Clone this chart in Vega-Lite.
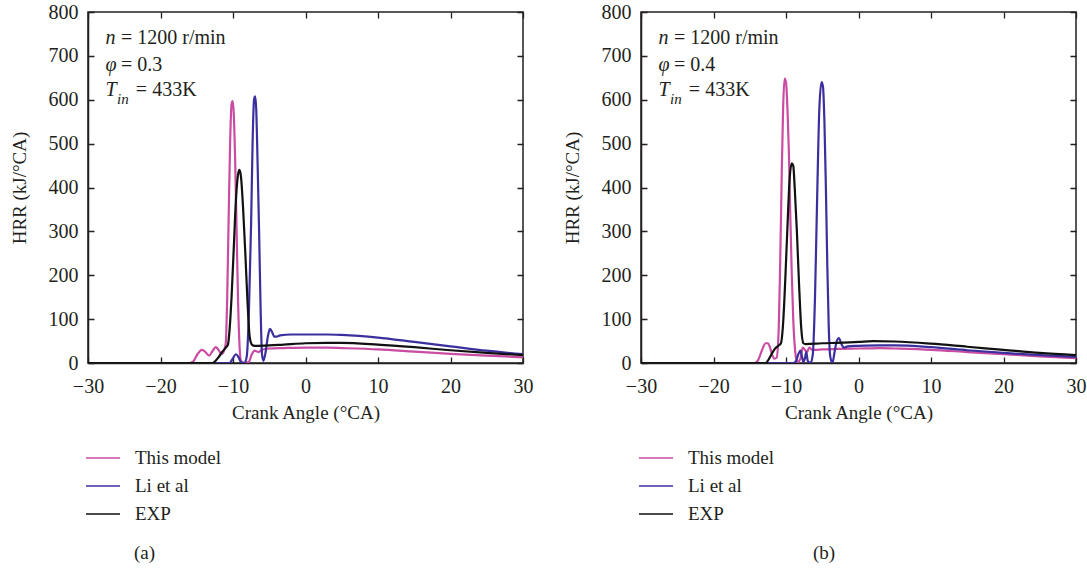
{
  "$schema": "https://vega.github.io/schema/vega-lite/v6.json",
  "background": "white",
  "padding": {"left": 9, "top": 1, "right": 10, "bottom": 5},
  "spacing": 28,
  "config": {
    "font": "Liberation Serif",
    "view": {"stroke": "#231f20", "strokeWidth": 1.5},
    "axis": {"domainColor": "#231f20", "domainWidth": 1.5, "labelFont": "Liberation Serif", "labelFontSize": 20, "labelColor": "#231f20", "titleFont": "Liberation Serif", "titleFontSize": 19, "titleFontWeight": "normal", "titleColor": "#231f20", "labelOverlap": false, "labelFlush": false},
    "legend": {"orient": "none", "legendX": -3, "legendY": 428, "symbolType": "stroke", "symbolSize": 1156, "symbolStrokeWidth": 1.5, "labelFont": "Liberation Serif", "labelFontSize": 19, "labelColor": "#231f20", "labelOffset": 14, "rowPadding": -4, "title": null},
    "title": {"font": "Liberation Serif", "fontSize": 19, "fontWeight": "normal", "color": "#231f20"}
  },
  "resolve": {"legend": {"color": "independent"}},
  "datasets": {
    "curves": [
      {"p":"a","s":"This model","angle":-30,"hrr":0},{"p":"a","s":"This model","angle":-16,"hrr":0},{"p":"a","s":"This model","angle":-15.5,"hrr":3},{"p":"a","s":"This model","angle":-14.9,"hrr":20},{"p":"a","s":"This model","angle":-14.3,"hrr":30},{"p":"a","s":"This model","angle":-13.8,"hrr":25},{"p":"a","s":"This model","angle":-13.3,"hrr":17},{"p":"a","s":"This model","angle":-12.8,"hrr":28},{"p":"a","s":"This model","angle":-12.4,"hrr":36},{"p":"a","s":"This model","angle":-12.0,"hrr":30},{"p":"a","s":"This model","angle":-11.6,"hrr":20},{"p":"a","s":"This model","angle":-11.2,"hrr":30},{"p":"a","s":"This model","angle":-11.0,"hrr":45},{"p":"a","s":"This model","angle":-10.8,"hrr":150},{"p":"a","s":"This model","angle":-10.6,"hrr":330},{"p":"a","s":"This model","angle":-10.4,"hrr":500},{"p":"a","s":"This model","angle":-10.2,"hrr":590},{"p":"a","s":"This model","angle":-10.05,"hrr":597},{"p":"a","s":"This model","angle":-9.9,"hrr":570},{"p":"a","s":"This model","angle":-9.7,"hrr":460},{"p":"a","s":"This model","angle":-9.5,"hrr":300},{"p":"a","s":"This model","angle":-9.3,"hrr":140},{"p":"a","s":"This model","angle":-9.1,"hrr":40},{"p":"a","s":"This model","angle":-8.9,"hrr":5},{"p":"a","s":"This model","angle":-8.5,"hrr":0},{"p":"a","s":"This model","angle":-7.8,"hrr":3},{"p":"a","s":"This model","angle":-7.4,"hrr":20},{"p":"a","s":"This model","angle":-7.0,"hrr":28},{"p":"a","s":"This model","angle":-6.5,"hrr":25},{"p":"a","s":"This model","angle":-6.0,"hrr":30},{"p":"a","s":"This model","angle":-5,"hrr":33},{"p":"a","s":"This model","angle":-3,"hrr":34},{"p":"a","s":"This model","angle":0,"hrr":35},{"p":"a","s":"This model","angle":3,"hrr":35},{"p":"a","s":"This model","angle":5,"hrr":34},{"p":"a","s":"This model","angle":10,"hrr":31},{"p":"a","s":"This model","angle":15,"hrr":26},{"p":"a","s":"This model","angle":20,"hrr":21},{"p":"a","s":"This model","angle":25,"hrr":17},{"p":"a","s":"This model","angle":30,"hrr":13},
      {"p":"a","s":"Li et al","angle":-30,"hrr":0},{"p":"a","s":"Li et al","angle":-10.5,"hrr":0},{"p":"a","s":"Li et al","angle":-10.1,"hrr":8},{"p":"a","s":"Li et al","angle":-9.6,"hrr":20},{"p":"a","s":"Li et al","angle":-9.2,"hrr":12},{"p":"a","s":"Li et al","angle":-8.9,"hrr":2},{"p":"a","s":"Li et al","angle":-8.4,"hrr":0},{"p":"a","s":"Li et al","angle":-8.1,"hrr":15},{"p":"a","s":"Li et al","angle":-7.8,"hrr":120},{"p":"a","s":"Li et al","angle":-7.5,"hrr":320},{"p":"a","s":"Li et al","angle":-7.3,"hrr":500},{"p":"a","s":"Li et al","angle":-7.1,"hrr":600},{"p":"a","s":"Li et al","angle":-6.95,"hrr":608},{"p":"a","s":"Li et al","angle":-6.8,"hrr":580},{"p":"a","s":"Li et al","angle":-6.6,"hrr":450},{"p":"a","s":"Li et al","angle":-6.4,"hrr":300},{"p":"a","s":"Li et al","angle":-6.2,"hrr":130},{"p":"a","s":"Li et al","angle":-6.0,"hrr":20},{"p":"a","s":"Li et al","angle":-5.8,"hrr":5},{"p":"a","s":"Li et al","angle":-5.5,"hrr":25},{"p":"a","s":"Li et al","angle":-5.2,"hrr":60},{"p":"a","s":"Li et al","angle":-4.9,"hrr":78},{"p":"a","s":"Li et al","angle":-4.6,"hrr":70},{"p":"a","s":"Li et al","angle":-4.3,"hrr":60},{"p":"a","s":"Li et al","angle":-4.0,"hrr":60},{"p":"a","s":"Li et al","angle":-3.5,"hrr":63},{"p":"a","s":"Li et al","angle":-2,"hrr":65},{"p":"a","s":"Li et al","angle":0,"hrr":65},{"p":"a","s":"Li et al","angle":3,"hrr":65},{"p":"a","s":"Li et al","angle":5,"hrr":64},{"p":"a","s":"Li et al","angle":10,"hrr":58},{"p":"a","s":"Li et al","angle":15,"hrr":48},{"p":"a","s":"Li et al","angle":20,"hrr":38},{"p":"a","s":"Li et al","angle":25,"hrr":28},{"p":"a","s":"Li et al","angle":30,"hrr":20},
      {"p":"a","s":"EXP","angle":-30,"hrr":0},{"p":"a","s":"EXP","angle":-12.8,"hrr":0},{"p":"a","s":"EXP","angle":-12.4,"hrr":5},{"p":"a","s":"EXP","angle":-12.0,"hrr":13},{"p":"a","s":"EXP","angle":-11.5,"hrr":25},{"p":"a","s":"EXP","angle":-11.0,"hrr":35},{"p":"a","s":"EXP","angle":-10.7,"hrr":42},{"p":"a","s":"EXP","angle":-10.5,"hrr":70},{"p":"a","s":"EXP","angle":-10.2,"hrr":150},{"p":"a","s":"EXP","angle":-9.9,"hrr":260},{"p":"a","s":"EXP","angle":-9.6,"hrr":370},{"p":"a","s":"EXP","angle":-9.3,"hrr":430},{"p":"a","s":"EXP","angle":-9.1,"hrr":440},{"p":"a","s":"EXP","angle":-8.9,"hrr":425},{"p":"a","s":"EXP","angle":-8.6,"hrr":350},{"p":"a","s":"EXP","angle":-8.3,"hrr":250},{"p":"a","s":"EXP","angle":-8.0,"hrr":140},{"p":"a","s":"EXP","angle":-7.7,"hrr":60},{"p":"a","s":"EXP","angle":-7.4,"hrr":42},{"p":"a","s":"EXP","angle":-7.0,"hrr":39},{"p":"a","s":"EXP","angle":-5,"hrr":40},{"p":"a","s":"EXP","angle":-3,"hrr":42},{"p":"a","s":"EXP","angle":0,"hrr":45},{"p":"a","s":"EXP","angle":3,"hrr":46},{"p":"a","s":"EXP","angle":5,"hrr":46},{"p":"a","s":"EXP","angle":10,"hrr":42},{"p":"a","s":"EXP","angle":15,"hrr":36},{"p":"a","s":"EXP","angle":20,"hrr":29},{"p":"a","s":"EXP","angle":25,"hrr":23},{"p":"a","s":"EXP","angle":30,"hrr":18},
      {"p":"b","s":"This model","angle":-30,"hrr":0},{"p":"b","s":"This model","angle":-14.3,"hrr":0},{"p":"b","s":"This model","angle":-13.8,"hrr":8},{"p":"b","s":"This model","angle":-13.3,"hrr":30},{"p":"b","s":"This model","angle":-12.8,"hrr":45},{"p":"b","s":"This model","angle":-12.5,"hrr":45},{"p":"b","s":"This model","angle":-12.2,"hrr":35},{"p":"b","s":"This model","angle":-11.9,"hrr":18},{"p":"b","s":"This model","angle":-11.6,"hrr":10},{"p":"b","s":"This model","angle":-11.3,"hrr":12},{"p":"b","s":"This model","angle":-11.0,"hrr":80},{"p":"b","s":"This model","angle":-10.8,"hrr":230},{"p":"b","s":"This model","angle":-10.6,"hrr":420},{"p":"b","s":"This model","angle":-10.4,"hrr":580},{"p":"b","s":"This model","angle":-10.2,"hrr":648},{"p":"b","s":"This model","angle":-10.0,"hrr":640},{"p":"b","s":"This model","angle":-9.8,"hrr":580},{"p":"b","s":"This model","angle":-9.6,"hrr":480},{"p":"b","s":"This model","angle":-9.4,"hrr":330},{"p":"b","s":"This model","angle":-9.2,"hrr":200},{"p":"b","s":"This model","angle":-9.0,"hrr":100},{"p":"b","s":"This model","angle":-8.8,"hrr":40},{"p":"b","s":"This model","angle":-8.6,"hrr":10},{"p":"b","s":"This model","angle":-8.4,"hrr":2},{"p":"b","s":"This model","angle":-8.0,"hrr":10},{"p":"b","s":"This model","angle":-7.7,"hrr":35},{"p":"b","s":"This model","angle":-7.4,"hrr":30},{"p":"b","s":"This model","angle":-7.1,"hrr":25},{"p":"b","s":"This model","angle":-6.8,"hrr":35},{"p":"b","s":"This model","angle":-6.4,"hrr":30},{"p":"b","s":"This model","angle":-6,"hrr":30},{"p":"b","s":"This model","angle":-5,"hrr":31},{"p":"b","s":"This model","angle":-3,"hrr":32},{"p":"b","s":"This model","angle":0,"hrr":33},{"p":"b","s":"This model","angle":3,"hrr":34},{"p":"b","s":"This model","angle":5,"hrr":33},{"p":"b","s":"This model","angle":10,"hrr":30},{"p":"b","s":"This model","angle":15,"hrr":25},{"p":"b","s":"This model","angle":20,"hrr":20},{"p":"b","s":"This model","angle":25,"hrr":15},{"p":"b","s":"This model","angle":30,"hrr":11},
      {"p":"b","s":"Li et al","angle":-30,"hrr":0},{"p":"b","s":"Li et al","angle":-9,"hrr":0},{"p":"b","s":"Li et al","angle":-8.6,"hrr":5},{"p":"b","s":"Li et al","angle":-8.3,"hrr":20},{"p":"b","s":"Li et al","angle":-8.0,"hrr":28},{"p":"b","s":"Li et al","angle":-7.8,"hrr":15},{"p":"b","s":"Li et al","angle":-7.6,"hrr":2},{"p":"b","s":"Li et al","angle":-7.4,"hrr":10},{"p":"b","s":"Li et al","angle":-7.2,"hrr":25},{"p":"b","s":"Li et al","angle":-7.0,"hrr":5},{"p":"b","s":"Li et al","angle":-6.6,"hrr":0},{"p":"b","s":"Li et al","angle":-6.3,"hrr":20},{"p":"b","s":"Li et al","angle":-6.0,"hrr":150},{"p":"b","s":"Li et al","angle":-5.7,"hrr":380},{"p":"b","s":"Li et al","angle":-5.4,"hrr":580},{"p":"b","s":"Li et al","angle":-5.1,"hrr":640},{"p":"b","s":"Li et al","angle":-4.9,"hrr":630},{"p":"b","s":"Li et al","angle":-4.7,"hrr":550},{"p":"b","s":"Li et al","angle":-4.5,"hrr":400},{"p":"b","s":"Li et al","angle":-4.3,"hrr":220},{"p":"b","s":"Li et al","angle":-4.1,"hrr":80},{"p":"b","s":"Li et al","angle":-3.9,"hrr":15},{"p":"b","s":"Li et al","angle":-3.6,"hrr":0},{"p":"b","s":"Li et al","angle":-3.3,"hrr":25},{"p":"b","s":"Li et al","angle":-3.0,"hrr":50},{"p":"b","s":"Li et al","angle":-2.7,"hrr":57},{"p":"b","s":"Li et al","angle":-2.4,"hrr":45},{"p":"b","s":"Li et al","angle":-2.0,"hrr":35},{"p":"b","s":"Li et al","angle":-1.5,"hrr":38},{"p":"b","s":"Li et al","angle":0,"hrr":39},{"p":"b","s":"Li et al","angle":3,"hrr":40},{"p":"b","s":"Li et al","angle":5,"hrr":40},{"p":"b","s":"Li et al","angle":10,"hrr":36},{"p":"b","s":"Li et al","angle":15,"hrr":29},{"p":"b","s":"Li et al","angle":20,"hrr":23},{"p":"b","s":"Li et al","angle":25,"hrr":18},{"p":"b","s":"Li et al","angle":30,"hrr":14},
      {"p":"b","s":"EXP","angle":-30,"hrr":0},{"p":"b","s":"EXP","angle":-12.8,"hrr":0},{"p":"b","s":"EXP","angle":-12.4,"hrr":8},{"p":"b","s":"EXP","angle":-12.0,"hrr":20},{"p":"b","s":"EXP","angle":-11.5,"hrr":33},{"p":"b","s":"EXP","angle":-11.0,"hrr":40},{"p":"b","s":"EXP","angle":-10.7,"hrr":45},{"p":"b","s":"EXP","angle":-10.4,"hrr":90},{"p":"b","s":"EXP","angle":-10.1,"hrr":190},{"p":"b","s":"EXP","angle":-9.8,"hrr":310},{"p":"b","s":"EXP","angle":-9.5,"hrr":420},{"p":"b","s":"EXP","angle":-9.2,"hrr":455},{"p":"b","s":"EXP","angle":-9.0,"hrr":450},{"p":"b","s":"EXP","angle":-8.8,"hrr":400},{"p":"b","s":"EXP","angle":-8.5,"hrr":300},{"p":"b","s":"EXP","angle":-8.2,"hrr":180},{"p":"b","s":"EXP","angle":-7.9,"hrr":80},{"p":"b","s":"EXP","angle":-7.6,"hrr":45},{"p":"b","s":"EXP","angle":-7.3,"hrr":43},{"p":"b","s":"EXP","angle":-5,"hrr":45},{"p":"b","s":"EXP","angle":-3,"hrr":46},{"p":"b","s":"EXP","angle":0,"hrr":48},{"p":"b","s":"EXP","angle":2,"hrr":50},{"p":"b","s":"EXP","angle":5,"hrr":49},{"p":"b","s":"EXP","angle":10,"hrr":44},{"p":"b","s":"EXP","angle":15,"hrr":37},{"p":"b","s":"EXP","angle":20,"hrr":30},{"p":"b","s":"EXP","angle":25,"hrr":23},{"p":"b","s":"EXP","angle":30,"hrr":18}
    ],
    "notes": [
      {"p":"a","kind":"italic","text":"n","angle":-27.6,"hrr":727},
      {"p":"a","kind":"italic","text":"φ","angle":-27.6,"hrr":666},
      {"p":"a","kind":"italic","text":"T","angle":-27.6,"hrr":609},
      {"p":"a","kind":"sub","text":"in","angle":-26.0,"hrr":590},
      {"p":"a","kind":"normal","text":"= 1200 r/min","angle":-25.45,"hrr":727},
      {"p":"a","kind":"normal","text":"= 0.3","angle":-25.45,"hrr":666},
      {"p":"a","kind":"normal","text":"= 433K","angle":-23.4,"hrr":609},
      {"p":"b","kind":"italic","text":"n","angle":-27.6,"hrr":727},
      {"p":"b","kind":"italic","text":"φ","angle":-27.6,"hrr":666},
      {"p":"b","kind":"italic","text":"T","angle":-27.6,"hrr":609},
      {"p":"b","kind":"sub","text":"in","angle":-26.0,"hrr":590},
      {"p":"b","kind":"normal","text":"= 1200 r/min","angle":-25.45,"hrr":727},
      {"p":"b","kind":"normal","text":"= 0.4","angle":-25.45,"hrr":666},
      {"p":"b","kind":"normal","text":"= 433K","angle":-23.4,"hrr":609}
    ]
  },
  "hconcat": [
    {
      "width": 435, "height": 351,
      "title": {"text": "(a)", "orient": "bottom", "anchor": "start", "frame": "group", "dx": 46, "offset": 20},
      "layer": [
        {
          "data": {"name": "curves"},
          "transform": [{"filter": "datum.p === 'a'"}],
          "mark": {"type": "line", "interpolate": "monotone", "strokeWidth": 2.2, "clip": true},
          "encoding": {
            "x": {"field": "angle", "type": "quantitative", "title": "Crank Angle (°CA)", "scale": {"domain": [-30, 30], "nice": false, "zero": false},
                  "axis": {"values": [-30,-27.5,-25,-22.5,-20,-17.5,-15,-12.5,-10,-7.5,-5,-2.5,0,2.5,5,7.5,10,12.5,15,17.5,20,22.5,25,27.5,30], "labelExpr": "datum.value % 5 === 0 ? datum.label : ''", "labelOverlap": false, "labelFlush": false, "ticks": false, "tickSize": 0, "labelPadding": 13, "titlePadding": 7,
                           "grid": true, "gridColor": "#231f20", "gridWidth": 1.3, "gridOpacity": 1, "gridDash": {"condition": {"test": "datum.value % 5 === 0", "value": [6, 339, 6, 1000]}, "value": [3, 345, 3, 1000]}}},
            "y": {"field": "hrr", "type": "quantitative", "title": "HRR (kJ/°CA)", "scale": {"domain": [0, 800], "nice": false},
                  "axis": {"values": [0,50,100,150,200,250,300,350,400,450,500,550,600,650,700,750,800], "labelExpr": "datum.value % 100 === 0 ? datum.label : ''", "labelOverlap": false, "labelFlush": false, "ticks": false, "tickSize": 0, "labelPadding": 10, "titlePadding": 19,
                           "grid": true, "gridColor": "#231f20", "gridWidth": 1.3, "gridOpacity": 1, "gridDash": {"condition": {"test": "datum.value % 100 === 0", "value": [6, 423, 6, 1000]}, "value": [3, 429, 3, 1000]}}},
            "color": {"field": "s", "type": "nominal", "scale": {"domain": ["This model", "Li et al", "EXP"], "range": ["#c94ca2", "#3b2f9e", "#111111"]}}
          }
        },
        {
          "data": {"name": "notes"},
          "transform": [{"filter": "datum.p === 'a' && datum.kind === 'normal'"}],
          "mark": {"type": "text", "align": "left", "baseline": "alphabetic", "fontSize": 20, "color": "#231f20"},
          "encoding": {
            "x": {"field": "angle", "type": "quantitative"},
            "y": {"field": "hrr", "type": "quantitative"},
            "text": {"field": "text"}
          }
        },
        {
          "data": {"name": "notes"},
          "transform": [{"filter": "datum.p === 'a' && datum.kind === 'italic'"}],
          "mark": {"type": "text", "align": "left", "baseline": "alphabetic", "fontSize": 20, "fontStyle": "italic", "color": "#231f20"},
          "encoding": {
            "x": {"field": "angle", "type": "quantitative"},
            "y": {"field": "hrr", "type": "quantitative"},
            "text": {"field": "text"}
          }
        },
        {
          "data": {"name": "notes"},
          "transform": [{"filter": "datum.p === 'a' && datum.kind === 'sub'"}],
          "mark": {"type": "text", "align": "left", "baseline": "alphabetic", "fontSize": 15, "fontStyle": "italic", "color": "#231f20"},
          "encoding": {
            "x": {"field": "angle", "type": "quantitative"},
            "y": {"field": "hrr", "type": "quantitative"},
            "text": {"field": "text"}
          }
        }
      ]
    },
    {
      "width": 435, "height": 351,
      "title": {"text": "(b)", "orient": "bottom", "anchor": "start", "frame": "group", "dx": 172, "offset": 20},
      "layer": [
        {
          "data": {"name": "curves"},
          "transform": [{"filter": "datum.p === 'b'"}],
          "mark": {"type": "line", "interpolate": "monotone", "strokeWidth": 2.2, "clip": true},
          "encoding": {
            "x": {"field": "angle", "type": "quantitative", "title": "Crank Angle (°CA)", "scale": {"domain": [-30, 30], "nice": false, "zero": false},
                  "axis": {"values": [-30,-27.5,-25,-22.5,-20,-17.5,-15,-12.5,-10,-7.5,-5,-2.5,0,2.5,5,7.5,10,12.5,15,17.5,20,22.5,25,27.5,30], "labelExpr": "datum.value % 5 === 0 ? datum.label : ''", "labelOverlap": false, "labelFlush": false, "ticks": false, "tickSize": 0, "labelPadding": 13, "titlePadding": 7,
                           "grid": true, "gridColor": "#231f20", "gridWidth": 1.3, "gridOpacity": 1, "gridDash": {"condition": {"test": "datum.value % 5 === 0", "value": [6, 339, 6, 1000]}, "value": [3, 345, 3, 1000]}}},
            "y": {"field": "hrr", "type": "quantitative", "title": "HRR (kJ/°CA)", "scale": {"domain": [0, 800], "nice": false},
                  "axis": {"values": [0,50,100,150,200,250,300,350,400,450,500,550,600,650,700,750,800], "labelExpr": "datum.value % 100 === 0 ? datum.label : ''", "labelOverlap": false, "labelFlush": false, "ticks": false, "tickSize": 0, "labelPadding": 10, "titlePadding": 19,
                           "grid": true, "gridColor": "#231f20", "gridWidth": 1.3, "gridOpacity": 1, "gridDash": {"condition": {"test": "datum.value % 100 === 0", "value": [6, 423, 6, 1000]}, "value": [3, 429, 3, 1000]}}},
            "color": {"field": "s", "type": "nominal", "scale": {"domain": ["This model", "Li et al", "EXP"], "range": ["#c94ca2", "#3b2f9e", "#111111"]}}
          }
        },
        {
          "data": {"name": "notes"},
          "transform": [{"filter": "datum.p === 'b' && datum.kind === 'normal'"}],
          "mark": {"type": "text", "align": "left", "baseline": "alphabetic", "fontSize": 20, "color": "#231f20"},
          "encoding": {
            "x": {"field": "angle", "type": "quantitative"},
            "y": {"field": "hrr", "type": "quantitative"},
            "text": {"field": "text"}
          }
        },
        {
          "data": {"name": "notes"},
          "transform": [{"filter": "datum.p === 'b' && datum.kind === 'italic'"}],
          "mark": {"type": "text", "align": "left", "baseline": "alphabetic", "fontSize": 20, "fontStyle": "italic", "color": "#231f20"},
          "encoding": {
            "x": {"field": "angle", "type": "quantitative"},
            "y": {"field": "hrr", "type": "quantitative"},
            "text": {"field": "text"}
          }
        },
        {
          "data": {"name": "notes"},
          "transform": [{"filter": "datum.p === 'b' && datum.kind === 'sub'"}],
          "mark": {"type": "text", "align": "left", "baseline": "alphabetic", "fontSize": 15, "fontStyle": "italic", "color": "#231f20"},
          "encoding": {
            "x": {"field": "angle", "type": "quantitative"},
            "y": {"field": "hrr", "type": "quantitative"},
            "text": {"field": "text"}
          }
        }
      ]
    }
  ]
}
